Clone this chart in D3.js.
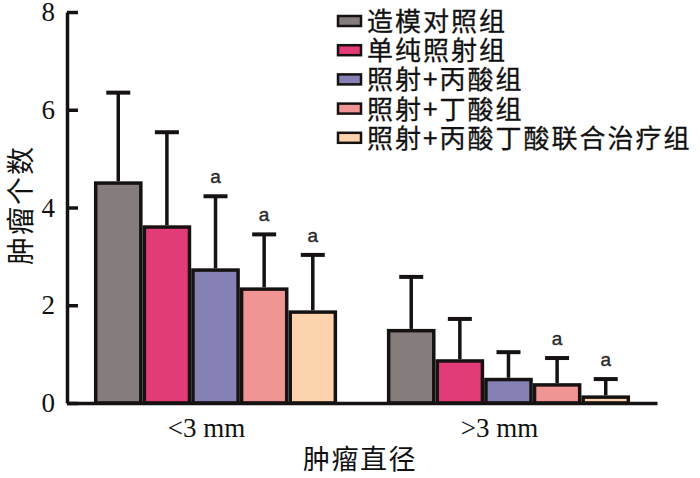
<!DOCTYPE html>
<html>
<head>
<meta charset="utf-8">
<script src="https://cdn.jsdelivr.net/npm/d3@7"></script>
<style>
  body { margin: 0; background: #fff; }
  svg { display: block; }
</style>
</head>
<body>
<div id="chart"></div>
<script>
// tumour size groups on the x axis
var categories = ["<3 mm", ">3 mm"];
// treatment groups (legend)
var groups = ["造模对照组", "单纯照射组", "照射+丙酸组", "照射+丁酸组", "照射+丙酸丁酸联合治疗组"];
var colors = ["#857d7b", "#e33a78", "#8581b5", "#f19494", "#fdd3ae"];

// mean and SD per category, one entry per group
var meansSmall = [4.5, 3.6, 2.72, 2.33, 1.86];
var sdSmall = [1.85, 1.94, 1.51, 1.12, 1.17];
var meansLarge = [1.48, 0.86, 0.48, 0.37, 0.12];
var sdLarge = [1.1, 0.86, 0.56, 0.55, 0.37];
var sigSmall = ["", "", "a", "a", "a"];
var sigLarge = ["", "", "", "a", "a"];

var yTicks = [0, 2, 4, 6, 8];

var W = 700, H = 478;

var svg = d3.select("#chart").append("svg")
    .attr("width", W)
    .attr("height", H);

var rows = [];
categories.forEach(function (c, ci) {
    var m = ci == 0 ? meansSmall : meansLarge;
    var s = ci == 0 ? sdSmall : sdLarge;
    var a = ci == 0 ? sigSmall : sigLarge;
    groups.forEach(function (g, gi) {
        rows.push({ cat: c, group: g, gi: gi, mean: m[gi], sd: s[gi], sig: a[gi] });
    });
});

var x0 = d3.scaleBand()
    .domain(categories)
    .range([67, 657])
    .paddingInner(0.17)
    .paddingOuter(0.092);

var x1 = d3.scaleBand()
    .domain(groups)
    .range([0, x0.bandwidth()]);

var y = d3.scaleLinear()
    .domain([0, 8])
    .range([403, 12]);

var bw = 3.5;
var ink = "#161212";

function cx(d) { return x0(d.cat) + x1(d.group) + x1.bandwidth() / 2; }

// bars
svg.append("g").selectAll("rect")
    .data(rows)
    .enter().append("rect")
    .attr("x", function (d) { return x0(d.cat) + x1(d.group) + bw / 2; })
    .attr("width", x1.bandwidth() - bw)
    .attr("y", function (d) { return y(d.mean); })
    .attr("height", function (d) { return y(0) - y(d.mean); })
    .attr("fill", function (d) { return colors[d.gi]; })
    .attr("stroke", ink)
    .attr("stroke-width", bw);

// error bars (upper only)
var err = svg.append("g").attr("stroke", ink);
err.selectAll("line.v")
    .data(rows)
    .enter().append("line")
    .attr("class", "v")
    .attr("x1", cx)
    .attr("x2", cx)
    .attr("y1", function (d) { return y(d.mean) - bw / 2; })
    .attr("y2", function (d) { return y(d.mean + d.sd); })
    .attr("stroke-width", 3.5);
err.selectAll("line.cap")
    .data(rows)
    .enter().append("line")
    .attr("class", "cap")
    .attr("x1", function (d) { return cx(d) - 12; })
    .attr("x2", function (d) { return cx(d) + 12; })
    .attr("y1", function (d) { return y(d.mean + d.sd); })
    .attr("y2", function (d) { return y(d.mean + d.sd); })
    .attr("stroke-width", 4);

// significance marks
svg.append("g").selectAll("text")
    .data(rows.filter(function (d) { return d.sig; }))
    .enter().append("text")
    .attr("x", cx)
    .attr("y", function (d) { return y(d.mean + d.sd) - 13; })
    .attr("text-anchor", "middle")
    .attr("font-family", "Liberation Sans, Arial, sans-serif")
    .attr("font-size", 19)
    .attr("fill", "#2a2a2a")
    .attr("stroke", "#2a2a2a")
    .attr("stroke-width", 0.4)
    .text(function (d) { return d.sig; });

// y axis
var yAxis = svg.append("g")
    .attr("transform", "translate(67,0)")
    .call(d3.axisLeft(y).tickValues(yTicks).tickSize(-11).tickSizeOuter(0).tickPadding(12));
yAxis.select(".domain").attr("stroke", ink).attr("stroke-width", 3.5);
yAxis.selectAll(".tick line").attr("stroke", ink).attr("stroke-width", 3.5);
yAxis.selectAll(".tick text")
    .attr("font-family", "Liberation Serif, Times New Roman, serif")
    .attr("font-size", 27)
    .attr("fill", "#111");

// x axis
var xAxis = svg.append("g")
    .attr("transform", "translate(0," + y(0) + ")")
    .call(d3.axisBottom(x0).tickSize(0).tickPadding(15));
xAxis.select(".domain").attr("stroke", ink).attr("stroke-width", 3.5);
xAxis.selectAll(".tick text")
    .attr("dx", -9)
    .attr("dy", "0.71em")
    .attr("font-family", "Liberation Serif, Times New Roman, serif")
    .attr("font-size", 27)
    .attr("fill", "#111");

// axis titles
svg.append("text")
    .attr("x", 360)
    .attr("y", 469)
    .attr("text-anchor", "middle")
    .attr("font-family", "Noto Sans CJK SC, sans-serif")
    .attr("font-size", 27)
    .attr("letter-spacing", 1.5)
    .attr("fill", "#111")
    .text("肿瘤直径");

svg.append("text")
    .attr("transform", "translate(31,205) rotate(-90)")
    .attr("text-anchor", "middle")
    .attr("font-family", "Noto Sans CJK SC, sans-serif")
    .attr("font-size", 28)
    .attr("letter-spacing", 2)
    .attr("fill", "#111")
    .text("肿瘤个数");

// legend
var legend = svg.append("g").attr("transform", "translate(337,21)");
var li = legend.selectAll("g")
    .data(groups)
    .enter().append("g")
    .attr("transform", function (d, i) { return "translate(0," + i * 29.2 + ")"; });
li.append("rect")
    .attr("x", 1)
    .attr("y", -5)
    .attr("width", 23)
    .attr("height", 10)
    .attr("fill", function (d, i) { return colors[i]; })
    .attr("stroke", ink)
    .attr("stroke-width", 2.5);
li.append("text")
    .attr("x", 30)
    .attr("y", 10)
    .attr("font-family", "Noto Sans CJK SC, sans-serif")
    .attr("font-size", 26)
    .attr("letter-spacing", 2)
    .attr("fill", "#111")
    .attr("stroke", "#111")
    .attr("stroke-width", 0.3)
    .text(function (d) { return d; });
</script>
</body>
</html>
